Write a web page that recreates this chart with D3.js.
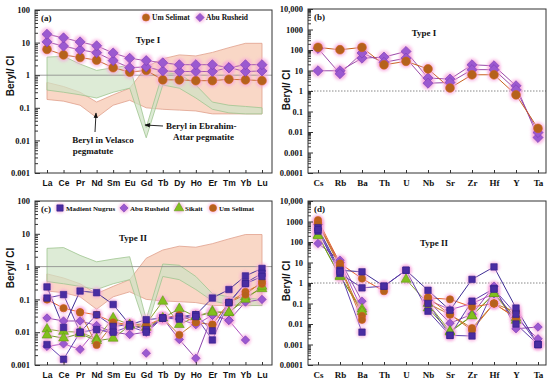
<!DOCTYPE html>
<html>
<head>
<meta charset="utf-8">
<script src="https://cdn.jsdelivr.net/npm/d3@7"></script>
<style>
body { margin: 0; background: #fff; }
text { font-family: "Liberation Serif", "Times New Roman", serif; font-weight: bold; fill: #111; }
</style>
</head>
<body>
<svg id="chart" width="550" height="384"></svg>
<script>
// categories
const ree = ["La", "Ce", "Pr", "Nd", "Sm", "Eu", "Gd", "Tb", "Dy", "Ho", "Er", "Tm", "Yb", "Lu"];
const trace = ["Cs", "Rb", "Ba", "Th", "U", "Nb", "Sr", "Zr", "Hf", "Y", "Ta"];

// tick labels
const reeTicks = [0.001, 0.01, 0.1, 1, 10, 100];
const reeTickLabels = ["0.001", "0.01", "0.1", "1", "10", "100"];
const traceTicks = [0.0001, 0.001, 0.01, 0.1, 1, 10, 100, 1000, 10000];
const traceTickLabels = ["0.0001", "0.001", "0.01", "0.1", "1", "10", "100", "1000", "10,000"];

// reference fields (panels a, c)
const velascoHigh = [0.6, 0.45, 0.3, 0.15, 0.25, 0.4, 1.8, 3.2, 4.2, 3.9, 5, 7, 9.5, 9.5];
const velascoLow = [0.18, 0.16, 0.12, 0.05, 0.12, 0.17, 0.1, 0.09, 0.085, 0.08, 0.065, 0.065, 0.065, 0.065];
const ebrahimHigh = [3.6, 3.8, 2.2, 1.4, 1.7, 2.0, 0.025, 1.2, 1.1, 0.5, 0.15, 0.12, 0.11, 0.1];
const ebrahimLow = [0.35, 0.3, 0.25, 0.2, 0.3, 0.4, 0.012, 0.5, 0.4, 0.2, 0.09, 0.07, 0.065, 0.065];

// panel a – Type I REE
const aUmSelimat = [6.2, 4.2, 3.5, 2.9, 1.7, 1.25, 1.4, 0.72, 0.72, 0.68, 0.68, 0.75, 0.72, 0.68];
const aAbuRusheid1 = [18, 14, 10.5, 8, 4.8, 3.3, 2.8, 2.4, 2.1, 2.1, 2.1, 1.7, 2.1, 2.1];
const aAbuRusheid2 = [10.5, 7.8, 6, 4.9, 2.8, 1.7, 1.8, 1.35, 1.3, 1.3, 1.3, 1.7, 1.3, 1.35];

// panel b – Type I trace
const bUmSelimat = [134, 103, 134, 19, 28, 12, 1.4, 6.2, 6.2, 0.65, 0.015];
const bAbuRusheid1 = [9.7, 9.7, 40, 45, 85, 4.3, 3.8, 19, 17, 1.8, 0.0054];
const bAbuRusheid2 = [120, 7, 71, 25, 40, 2.4, 2.6, 11, 11, 1.15, 0.0094];

// panel c – Type II REE
const cMadient1 = [0.24, 0.014, 0.18, 0.16, 0.07, 0.017, 0.024, 0.027, 0.027, 0.034, 0.11, 0.2, 0.52, 0.88];
const cMadient2 = [0.11, 0.14, 0.01, 0.034, 0.015, 0.017, 0.012, 0.027, 0.03, 0.034, 0.011, 0.08, 0.32, 0.62];
const cMadient3 = [0.0042, 0.0015, 0.01, 0.012, 0.01, 0.015, 0.01, 0.027, 0.025, 0.03, 0.0058, 0.08, 0.3, 0.5];
const cAbuRusheid1 = [0.027, 0.022, 0.022, 0.016, 0.01, 0.0085, 0.01, 0.027, 0.006, 0.0016, 0.033, 0.023, 0.083, 0.1];
const cAbuRusheid2 = [0.0037, 0.0044, 0.003, 0.012, 0.0095, null, 0.0023, null, 0.025, 0.017, 0.033, 0.023, 0.0058, null];
const cSikait1 = [0.0124, 0.0105, 0.01, 0.0063, 0.027, 0.017, 0.018, 0.087, 0.017, 0.03, 0.044, 0.039, 0.12, 0.21];
const cSikait2 = [0.0081, 0.0066, 0.009, 0.0055, 0.0065, 0.016, 0.014, 0.027, 0.052, 0.03, 0.04, 0.04, 0.1, 0.25];
const cUmSelimat1 = [0.099, 0.054, 0.041, 0.034, 0.02, 0.017, 0.016, 0.027, 0.033, 0.02, 0.017, 0.08, 0.17, 0.3];
const cUmSelimat2 = [null, null, 0.04, 0.0041, 0.018, 0.017, 0.012, 0.027, 0.0083, 0.02, 0.017, 0.08, 0.14, 0.35];

// panel d – Type II trace
const dMadient1 = [500, 4.2, 3.5, 0.7, 4.2, 0.44, 0.047, 1.5, 6.1, 0.06, 0.001];
const dMadient2 = [340, 2.9, 0.58, 0.7, 4.2, 0.042, 0.0028, 0.13, 0.54, 0.01, 0.001];
const dMadient3 = [400, 3.5, 0.004, null, null, 0.1, 0.0028, 0.0026, 0.5, 0.03, 0.001];
const dAbuRusheid1 = [85, 13, 0.13, null, null, 0.14, 0.011, 0.03, 0.7, 0.0059, 0.0071];
const dAbuRusheid2 = [700, 10, 0.05, null, null, 0.15, 0.05, 0.1, 0.3, 0.02, 0.0019];
const dSikait1 = [217, 2.0, 0.053, null, 1.5, 0.1, 0.0044, 0.025, 0.3, 0.015, null];
const dSikait2 = [200, 2.2, 0.04, null, null, 0.06, 0.004, 0.025, 0.3, 0.02, null];
const dUmSelimat1 = [1170, 9, 1.65, 0.4, null, 0.19, 0.16, 0.068, 0.1, 0.02, null];
const dUmSelimat2 = [900, 7, 0.025, null, null, 0.1, 0.029, 0.0063, 0.1, 0.039, null];
const dUmSelimat3 = [800, 6, 0.016, null, null, 0.2, 0.029, 0.005, 0.1, 0.02, null];

const svg = d3.select("#chart");
svg.append("defs").append("filter").attr("id", "glow")
    .attr("x", "-50%").attr("y", "-50%").attr("width", "200%").attr("height", "200%")
    .append("feGaussianBlur").attr("stdDeviation", 1.4);

const styles = {
    um: {shape: "circle", fill: "#b5621c", stroke: "#d0601c"},
    abu: {shape: "diamond", fill: "#9b59d0", stroke: "#7d3cb5"},
    mad: {shape: "square", fill: "#4a2ca2", stroke: "#33208a"},
    sik: {shape: "triangle", fill: "#82c01e", stroke: "#5f9a14"}
};

function marker(g, shape, size) {
    if (shape === "circle") return g.append("path").attr("d", d3.symbol(d3.symbolCircle, size)());
    if (shape === "square") return g.append("path").attr("d", d3.symbol(d3.symbolSquare, size)());
    if (shape === "triangle") return g.append("path").attr("d", d3.symbol(d3.symbolTriangle, size)());
    return g.append("path").attr("d", d3.symbol(d3.symbolSquare, size * 0.85)()).attr("transform", "rotate(45)");
}

function drawPanel(p) {
    const g = svg.append("g");
    const x = d3.scalePoint().domain(p.cats).range(p.xr);
    const y = d3.scaleLog().domain(p.dom).range([p.y1, p.y0]);

    // reference fields
    if (p.fields) {
        const area = d3.area().x((d, i) => x(p.cats[i])).y0(d => y(d[0])).y1(d => y(d[1]));
        const vel = velascoLow.map((v, i) => [v, velascoHigh[i]]);
        const ebr = ebrahimLow.map((v, i) => [v, ebrahimHigh[i]]);
        g.append("path").datum(vel).attr("d", area)
            .attr("fill", "#f7cdb8").attr("fill-opacity", 0.8).attr("stroke", "#e0a08c").attr("stroke-width", 0.8);
        g.append("path").datum(ebr).attr("d", area)
            .attr("fill", "#cfe2c4").attr("fill-opacity", 0.7).attr("stroke", "#9fc590").attr("stroke-width", 0.8);
    }

    // reference line at 1
    g.append("line").attr("x1", p.x0).attr("x2", p.x1).attr("y1", y(1)).attr("y2", y(1))
        .attr("stroke", "#888").attr("stroke-width", p.dotted ? 1 : 0.8)
        .attr("stroke-dasharray", p.dotted ? "1.5,1.5" : null);

    // series lines
    const line = d3.line().defined(d => d != null).x((d, i) => x(p.cats[i])).y(d => y(d));
    p.series.forEach(s => {
        g.append("path").datum(s.values.map((v, i) => v)).attr("fill", "none")
            .attr("stroke", s.line).attr("stroke-width", 1)
            .attr("d", d3.line().defined(d => d != null).x((d, i) => x(p.cats[i])).y(d => y(d)));
    });

    // pink halo behind markers
    p.series.forEach(s => {
        s.values.forEach((v, i) => {
            if (v == null) return;
            g.append("circle").attr("cx", x(p.cats[i])).attr("cy", y(v)).attr("r", p.msize > 50 ? 6.5 : 5.5)
                .attr("fill", "#f7a3dc").attr("opacity", 0.7).attr("filter", "url(#glow)");
        });
    });

    // markers
    p.series.forEach(s => {
        const st = styles[s.kind];
        s.values.forEach((v, i) => {
            if (v == null) return;
            const mg = g.append("g").attr("transform", `translate(${x(p.cats[i])},${y(v)})`);
            marker(mg, st.shape, p.msize).attr("fill", st.fill).attr("stroke", st.stroke).attr("stroke-width", 0.6);
        });
    });

    // axes
    const minor = [];
    for (let k = Math.log10(p.dom[0]); k < Math.log10(p.dom[1]); k++) {
        for (let m = 2; m < 10; m++) minor.push(m * Math.pow(10, k));
    }
    g.append("g").attr("transform", `translate(${p.x0},0)`)
        .call(d3.axisLeft(y).tickValues(minor).tickSizeInner(-3).tickSizeOuter(0).tickFormat(""))
        .call(a => a.select(".domain").remove())
        .call(a => a.selectAll("line").attr("stroke", "#333"));
    g.append("g").attr("transform", `translate(${p.x0},0)`)
        .call(d3.axisLeft(y).tickValues(p.ticks).tickSizeInner(-5).tickSizeOuter(0).tickPadding(5)
            .tickFormat((d, i) => p.tickLabels[i]))
        .call(a => a.select(".domain").remove())
        .call(a => a.selectAll("line").attr("stroke", "#333"))
        .call(a => a.selectAll("text").attr("font-size", 8.5).attr("font-family", null));
    g.append("g").attr("transform", `translate(0,${p.y1})`)
        .call(d3.axisBottom(x).tickSizeInner(-3).tickSizeOuter(0).tickPadding(7))
        .call(a => a.select(".domain").remove())
        .call(a => a.selectAll("line").attr("stroke", "#333"))
        .call(a => a.selectAll("text").attr("font-size", p.catFont.size)
            .style("font-family", p.catFont.family));

    // frame
    g.append("rect").attr("x", p.x0).attr("y", p.y0).attr("width", p.x1 - p.x0).attr("height", p.y1 - p.y0)
        .attr("fill", "none").attr("stroke", "#333").attr("stroke-width", 1);

    // titles
    g.append("text").attr("transform", `translate(${p.ylabX},${p.ylabY}) rotate(-90)`)
        .attr("text-anchor", "middle").attr("font-size", 10)
        .style("font-family", "'Liberation Sans', Arial, sans-serif").text("Beryl/ CI");
    g.append("text").attr("x", p.x0 + 6).attr("y", p.y0 + 11).attr("font-size", 9).text(p.tag);
    g.append("text").attr("x", p.typeX).attr("y", p.typeY).attr("text-anchor", "middle")
        .attr("font-size", 9).text(p.type);

    // legend
    if (p.legend) {
        p.legend.forEach(l => {
            const st = styles[l.kind];
            g.append("circle").attr("cx", l.x).attr("cy", p.legY).attr("r", 5)
                .attr("fill", "#f7a3dc").attr("opacity", 0.7).attr("filter", "url(#glow)");
            const mg = g.append("g").attr("transform", `translate(${l.x},${p.legY})`);
            marker(mg, st.shape, 40).attr("fill", st.fill).attr("stroke", st.stroke).attr("stroke-width", 0.6);
            g.append("text").attr("x", l.x + 6).attr("y", p.legY + 2.7).attr("font-size", p.legFont).text(l.label);
        });
    }
    return {g, x, y};
}

const sansCats = {size: 8.5, family: "'Liberation Sans', Arial, sans-serif"};
const serifCats = {size: 9, family: "'Liberation Serif', 'Times New Roman', serif"};

// (a)
const pa = drawPanel({
    cats: ree, xr: [47, 262], x0: 35, x1: 272, y0: 10, y1: 173, dom: [0.001, 100],
    ticks: reeTicks, tickLabels: reeTickLabels, fields: true, dotted: false, msize: 60,
    catFont: sansCats, ylabX: 14, ylabY: 76, tag: "(a)", type: "Type I", typeX: 148, typeY: 43,
    series: [
        {kind: "um", line: "#c8601e", values: aUmSelimat},
        {kind: "abu", line: "#9a4aa8", values: aAbuRusheid2},
        {kind: "abu", line: "#9a4aa8", values: aAbuRusheid1}
    ],
    legY: 17.5, legFont: 7.5,
    legend: [{kind: "um", x: 146, label: "Um Selimat"}, {kind: "abu", x: 200, label: "Abu Rusheid"}]
});
// annotations in (a)
svg.append("defs").append("marker").attr("id", "arrow").attr("viewBox", "0 0 10 10")
    .attr("refX", 9).attr("refY", 5).attr("markerWidth", 6).attr("markerHeight", 6).attr("orient", "auto")
    .append("path").attr("d", "M0,1 L10,5 L0,9 z").attr("fill", "#111");
svg.append("line").attr("x1", 95).attr("y1", 132).attr("x2", 96).attr("y2", 113)
    .attr("stroke", "#111").attr("stroke-width", 0.9).attr("marker-end", "url(#arrow)");
svg.append("line").attr("x1", 163).attr("y1", 126).attr("x2", 145).attr("y2", 125)
    .attr("stroke", "#111").attr("stroke-width", 0.9).attr("marker-end", "url(#arrow)");
svg.append("text").attr("x", 103).attr("y", 143).attr("text-anchor", "middle").attr("font-size", 9)
    .text("Beryl in Velasco");
svg.append("text").attr("x", 93).attr("y", 154).attr("text-anchor", "middle").attr("font-size", 9)
    .text("pegmatute");
svg.append("text").attr("x", 166).attr("y", 129).attr("font-size", 9).text("Beryl in Ebrahim-");
svg.append("text").attr("x", 173).attr("y", 140).attr("font-size", 9).text("Attar pegmatite");

// (b)
drawPanel({
    cats: trace, xr: [318, 538], x0: 308, x1: 546, y0: 9, y1: 173, dom: [0.0001, 10000],
    ticks: traceTicks, tickLabels: traceTickLabels, fields: false, dotted: true, msize: 60,
    catFont: serifCats, ylabX: 290, ylabY: 90, tag: "(b)", type: "Type I", typeX: 424, typeY: 36,
    series: [
        {kind: "abu", line: "#9a4aa8", values: bAbuRusheid1},
        {kind: "abu", line: "#9a4aa8", values: bAbuRusheid2},
        {kind: "um", line: "#c8601e", values: bUmSelimat}
    ]
});

// (c)
drawPanel({
    cats: ree, xr: [47, 262], x0: 35, x1: 272, y0: 201, y1: 365, dom: [0.001, 100],
    ticks: reeTicks, tickLabels: reeTickLabels, fields: true, dotted: false, msize: 42,
    catFont: sansCats, ylabX: 14, ylabY: 268, tag: "(c)", type: "Type II", typeX: 133, typeY: 241,
    series: [
        {kind: "abu", line: "#8e44ad", values: cAbuRusheid1},
        {kind: "abu", line: "#b050c0", values: cAbuRusheid2},
        {kind: "sik", line: "#8aa530", values: cSikait1},
        {kind: "sik", line: "#6d9a20", values: cSikait2},
        {kind: "um", line: "#e8622a", values: cUmSelimat1},
        {kind: "um", line: "#c07a20", values: cUmSelimat2},
        {kind: "mad", line: "#3d2c94", values: cMadient1},
        {kind: "mad", line: "#5c3aa8", values: cMadient2},
        {kind: "mad", line: "#6040b0", values: cMadient3}
    ],
    legY: 208, legFont: 7,
    legend: [
        {kind: "mad", x: 60, label: "Madient Nugrus"},
        {kind: "abu", x: 124, label: "Abu Rusheid"},
        {kind: "sik", x: 179, label: "Sikait"},
        {kind: "um", x: 213, label: "Um Selimat"}
    ]
});

// (d)
drawPanel({
    cats: trace, xr: [318, 538], x0: 308, x1: 546, y0: 201, y1: 365, dom: [0.0001, 10000],
    ticks: traceTicks, tickLabels: traceTickLabels, fields: false, dotted: true, msize: 42,
    catFont: serifCats, ylabX: 290, ylabY: 281, tag: "(d)", type: "Type II", typeX: 434, typeY: 246,
    series: [
        {kind: "abu", line: "#8e44ad", values: dAbuRusheid1},
        {kind: "abu", line: "#b050c0", values: dAbuRusheid2},
        {kind: "sik", line: "#8aa530", values: dSikait1},
        {kind: "sik", line: "#6d9a20", values: dSikait2},
        {kind: "um", line: "#e8622a", values: dUmSelimat1},
        {kind: "um", line: "#c07a20", values: dUmSelimat2},
        {kind: "um", line: "#d0702a", values: dUmSelimat3},
        {kind: "mad", line: "#3d2c94", values: dMadient1},
        {kind: "mad", line: "#5c3aa8", values: dMadient2},
        {kind: "mad", line: "#6040b0", values: dMadient3}
    ]
});
</script>
</body>
</html>
